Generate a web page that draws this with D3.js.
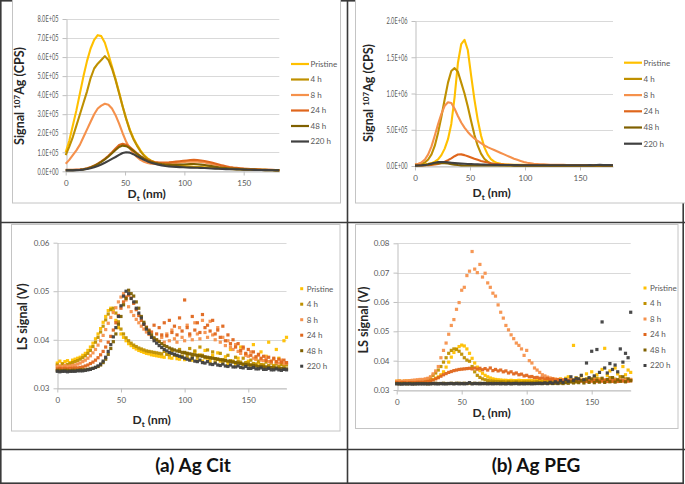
<!DOCTYPE html>
<html><head><meta charset="utf-8">
<script src="https://cdn.jsdelivr.net/npm/d3@7"></script>
<style>html,body{margin:0;padding:0;background:#fff;} svg{display:block;font-family:Lato,"Open Sans",sans-serif;}</style>
</head><body><svg id="c" width="685" height="484"></svg>
<script>
// ---------------- DATA ----------------
const seriesNames = ["Pristine", "4 h", "8 h", "24 h", "48 h", "220 h"];
const xTicks = [0, 50, 100, 150];
const xMax = 180;
const lineStepNm = 3;     // ICP-MS curves sampled every 3 nm (0..180)
const scatterStepNm = 2;  // LS points sampled every 2 nm (0..180)

const citIcpYTicks = [0, 1e5, 2e5, 3e5, 4e5, 5e5, 6e5, 7e5, 8e5];
const pegIcpYTicks = [0, 5e5, 1e6, 1.5e6, 2e6];
const citLsYTicks = [0.03, 0.04, 0.05, 0.06];
const pegLsYTicks = [0.03, 0.04, 0.05, 0.06, 0.07, 0.08];

// (a) Ag Cit, signal 107Ag (CPS)
const citIcpPristine = [1.0e5,1.6e5,2.4e5,3.2e5,4.1e5,5.0e5,5.8e5,6.45e5,6.9e5,7.15e5,7.1e5,6.75e5,6.15e5,5.5e5,4.85e5,4.15e5,3.4e5,2.75e5,2.2e5,1.75e5,1.4e5,1.1e5,8.5e4,6.8e4,5.6e4,4.8e4,4.2e4,3.8e4,3.5e4,3.3e4,3.1e4,2.9e4,2.8e4,2.7e4,2.6e4,2.5e4,2.4e4,2.3e4,2.2e4,2.1e4,2.0e4,1.9e4,1.8e4,1.7e4,1.6e4,1.5e4,1.4e4,1.3e4,1.2e4,1.15e4,1.1e4,1.0e4,9.5e3,9e3,8.5e3,8e3,7.5e3,7e3,6.5e3,6e3,6e3];
const citIcp4h = [0.85e5,1.3e5,1.8e5,2.4e5,3.0e5,3.6e5,4.2e5,4.9e5,5.4e5,5.65e5,5.85e5,6.05e5,5.85e5,5.4e5,4.8e5,4.1e5,3.4e5,2.75e5,2.15e5,1.7e5,1.35e5,1.05e5,8.2e4,6.5e4,5.4e4,4.6e4,4.0e4,3.6e4,3.3e4,3.1e4,2.9e4,2.7e4,2.6e4,2.5e4,2.4e4,2.3e4,2.2e4,2.1e4,2.0e4,1.9e4,1.8e4,1.7e4,1.6e4,1.5e4,1.4e4,1.3e4,1.2e4,1.1e4,1.0e4,9.5e3,9e3,8.5e3,8e3,7.5e3,7e3,6.5e3,6e3,6e3,5.5e3,5e3,5e3];
const citIcp8h = [0.4e5,0.6e5,0.85e5,1.1e5,1.4e5,1.8e5,2.2e5,2.6e5,3.0e5,3.3e5,3.45e5,3.55e5,3.5e5,3.3e5,2.95e5,2.5e5,2.0e5,1.55e5,1.2e5,9.5e4,7.5e4,6.0e4,5.0e4,4.4e4,4.0e4,3.8e4,3.7e4,3.7e4,3.8e4,4.0e4,4.2e4,4.4e4,4.6e4,4.8e4,5.0e4,5.1e4,5.2e4,5.1e4,4.9e4,4.6e4,4.2e4,3.8e4,3.4e4,3.0e4,2.6e4,2.3e4,2.0e4,1.8e4,1.6e4,1.4e4,1.3e4,1.2e4,1.1e4,1.0e4,9e3,8.5e3,8e3,7.5e3,7e3,6.5e3,6e3];
const citIcp24h = [8e3,8e3,8e3,9e3,1.0e4,1.2e4,1.6e4,2.2e4,3.0e4,4.0e4,5.2e4,6.6e4,8.2e4,1.0e5,1.2e5,1.38e5,1.45e5,1.4e5,1.28e5,1.12e5,9.5e4,8.0e4,6.8e4,5.9e4,5.3e4,4.9e4,4.7e4,4.6e4,4.6e4,4.7e4,4.9e4,5.1e4,5.3e4,5.5e4,5.7e4,5.9e4,6.0e4,5.9e4,5.7e4,5.4e4,5.0e4,4.6e4,4.1e4,3.6e4,3.1e4,2.7e4,2.3e4,2.0e4,1.8e4,1.6e4,1.4e4,1.3e4,1.2e4,1.1e4,1.0e4,9e3,8.5e3,8e3,7.5e3,7e3,7e3];
const citIcp48h = [6e3,6e3,6e3,7e3,8e3,1.0e4,1.4e4,2.0e4,2.8e4,3.8e4,5.0e4,6.3e4,7.8e4,9.5e4,1.12e5,1.28e5,1.35e5,1.32e5,1.22e5,1.08e5,9.2e4,7.8e4,6.6e4,5.7e4,5.0e4,4.5e4,4.1e4,3.8e4,3.6e4,3.5e4,3.4e4,3.4e4,3.5e4,3.6e4,3.7e4,3.8e4,3.8e4,3.7e4,3.5e4,3.3e4,3.0e4,2.7e4,2.4e4,2.1e4,1.9e4,1.7e4,1.5e4,1.4e4,1.3e4,1.2e4,1.1e4,1.0e4,9.5e3,9e3,8.5e3,8e3,7.5e3,7e3,6.5e3,6e3,6e3];
const citIcp220h = [5e3,5e3,5e3,6e3,7e3,9e3,1.2e4,1.6e4,2.1e4,2.8e4,3.6e4,4.5e4,5.5e4,6.5e4,7.5e4,8.6e4,9.6e4,1.0e5,9.8e4,9.0e4,8.0e4,7.0e4,6.0e4,5.2e4,4.5e4,4.0e4,3.5e4,3.1e4,2.8e4,2.6e4,2.4e4,2.3e4,2.2e4,2.1e4,2.0e4,1.95e4,1.9e4,1.85e4,1.8e4,1.7e4,1.6e4,1.5e4,1.4e4,1.3e4,1.2e4,1.15e4,1.1e4,1.05e4,1.0e4,9.5e3,9e3,8.5e3,8e3,7.5e3,7e3,6.5e3,6e3,6e3,5.5e3,5e3,5e3];

// (b) Ag PEG, signal 107Ag (CPS)
const pegIcpPristine = [2e4,2e4,2e4,2.5e4,3e4,4e4,6e4,9e4,1.5e5,2.4e5,3.7e5,5.8e5,9.5e5,1.42e6,1.68e6,1.74e6,1.6e6,1.25e6,9.2e5,6.4e5,4.2e5,2.6e5,1.6e5,9.5e4,6e4,4e4,3e4,2.4e4,2e4,1.8e4,1.6e4,1.5e4,1.5e4,1.5e4,1.4e4,1.4e4,1.4e4,1.3e4,1.3e4,1.3e4,1.3e4,1.2e4,1.2e4,1.2e4,1.2e4,1.2e4,1.1e4,1.1e4,1.1e4,1.1e4,1.1e4,1.0e4,1.0e4,1.0e4,1.0e4,1.0e4,1.0e4,1.0e4,1.0e4,1.0e4,1.0e4];
const pegIcp4h = [1.5e4,2e4,3e4,5e4,9e4,1.6e5,2.8e5,4.6e5,6.8e5,9.2e5,1.15e6,1.31e6,1.35e6,1.3e6,1.15e6,1.0e6,8.2e5,6.2e5,4.3e5,2.8e5,1.7e5,1.0e5,6e4,3.5e4,2.2e4,1.5e4,1.2e4,1e4,9e3,9e3,8e3,8e3,8e3,8e3,8e3,8e3,8e3,8e3,8e3,8e3,8e3,8e3,8e3,8e3,8e3,8e3,8e3,8e3,8e3,8e3,8e3,8e3,8e3,8e3,8e3,8e3,8e3,8e3,8e3,8e3,8e3];
const pegIcp8h = [2e4,3e4,5e4,9e4,1.6e5,2.7e5,4.2e5,5.8e5,7.2e5,8.3e5,8.8e5,8.7e5,7.9e5,6.9e5,6.0e5,5.3e5,4.7e5,4.2e5,3.8e5,3.45e5,3.15e5,2.85e5,2.6e5,2.4e5,2.2e5,2.0e5,1.8e5,1.6e5,1.4e5,1.2e5,1.0e5,8.5e4,7e4,5.5e4,4.5e4,3.8e4,3.2e4,2.8e4,2.5e4,2.2e4,2.0e4,1.8e4,1.7e4,1.6e4,1.5e4,1.5e4,1.4e4,1.4e4,1.4e4,1.3e4,1.3e4,1.3e4,1.3e4,1.2e4,1.2e4,1.2e4,1.2e4,1.2e4,1.2e4,1.2e4,1.2e4];
const pegIcp24h = [8e3,8e3,9e3,1.0e4,1.2e4,1.5e4,2e4,2.8e4,4e4,5.8e4,8e4,1.05e5,1.35e5,1.58e5,1.6e5,1.5e5,1.35e5,1.18e5,1.0e5,8.5e4,7e4,5.8e4,4.7e4,3.8e4,3.1e4,2.6e4,2.2e4,1.9e4,1.7e4,1.5e4,1.3e4,1.2e4,1.2e4,1.1e4,1.1e4,1.1e4,1.0e4,1.0e4,1.0e4,1.0e4,1.0e4,9e3,9e3,9e3,9e3,9e3,9e3,9e3,9e3,9e3,9e3,8e3,8e3,8e3,8e3,8e3,8e3,8e3,8e3,8e3,8e3];
const pegIcp48h = [5e3,6e3,8e3,1.2e4,1.8e4,2.6e4,3.4e4,4.0e4,4.2e4,4.0e4,3.4e4,2.6e4,1.9e4,1.3e4,9e3,7e3,6e3,6e3,6e3,6e3,6e3,6e3,6e3,6e3,6e3,6e3,6e3,6e3,6e3,6e3,5e3,5e3,5e3,5e3,5e3,5e3,5e3,5e3,5e3,5e3,5e3,5e3,5e3,5e3,5e3,5e3,5e3,5e3,5e3,5e3,5e3,5e3,5e3,5e3,5e3,5e3,5e3,5e3,5e3,5e3,5e3];
const pegIcp220h = [5e3,7e3,1.0e4,1.5e4,2.3e4,3.3e4,4.5e4,5.3e4,5.6e4,5.5e4,5.0e4,4.5e4,4.0e4,3.6e4,3.3e4,3.0e4,2.8e4,2.6e4,2.4e4,2.2e4,2.0e4,1.9e4,1.8e4,1.7e4,1.6e4,1.5e4,1.4e4,1.4e4,1.3e4,1.3e4,1.2e4,1.2e4,1.1e4,1.1e4,1.1e4,1.0e4,1.0e4,1.0e4,1.0e4,1.0e4,1.0e4,1.0e4,1.0e4,1.0e4,1.0e4,1.0e4,1.0e4,1.0e4,1.0e4,1.0e4,1.0e4,1.0e4,1.1e4,1.2e4,1.0e4,1.3e4,1.5e4,1.2e4,1.4e4,1.2e4,1.0e4];

// (a) Ag Cit, LS signal (V)
const citLsPristine = [
.0352,.0356,.0351,.0355,.0357,.0353,.0358,.0360,.0362,.0364,.0368,
.0372,.0378,.0385,.0393,.0402,.0412,.0423,.0436,.0448,.0460,
.0465,.0458,.0440,.0425,.0412,.0405,.0398,.0392,.0388,.0384,
.0381,.0378,.0376,.0374,.0372,.0371,.0369,.0368,.0367,.0366,
.0365,.0364,.0370,.0363,.0362,.0368,.0361,.0360,.0366,.0359,
.0372,.0360,.0358,.0375,.0357,.0369,.0356,.0378,.0362,.0355,
.0368,.0354,.0373,.0356,.0352,.0365,.0351,.0380,.0355,.0350,
.0362,.0385,.0349,.0370,.0356,.0348,.0390,.0360,.0352,.0375,
.0348,.0366,.0395,.0355,.0347,.0380,.0362,.0350,.0398,.0405];
const citLs4h = [
.0348,.0345,.0350,.0347,.0349,.0351,.0353,.0355,.0357,.0360,.0363,
.0367,.0372,.0378,.0386,.0395,.0405,.0416,.0428,.0441,.0453,
.0462,.0465,.0455,.0437,.0422,.0412,.0404,.0398,.0393,.0389,
.0386,.0383,.0381,.0379,.0377,.0376,.0375,.0374,.0373,.0372,
.0371,.0376,.0370,.0369,.0378,.0368,.0367,.0380,.0366,.0374,
.0366,.0382,.0365,.0377,.0364,.0385,.0368,.0363,.0379,.0362,
.0375,.0361,.0360,.0372,.0359,.0358,.0368,.0357,.0356,.0364,
.0355,.0354,.0362,.0353,.0352,.0358,.0351,.0350,.0356,.0349,
.0348,.0354,.0347,.0352,.0346,.0350,.0345,.0349,.0345,.0348];
const citLs8h = [
.0345,.0346,.0344,.0347,.0345,.0346,.0347,.0348,.0350,.0352,.0355,
.0358,.0362,.0367,.0373,.0380,.0389,.0398,.0409,.0421,.0434,
.0446,.0456,.0466,.0478,.0488,.0495,.0482,.0468,.0458,.0450,
.0442,.0435,.0428,.0422,.0416,.0411,.0406,.0402,.0399,.0397,
.0405,.0395,.0412,.0398,.0420,.0402,.0395,.0425,.0405,.0398,
.0430,.0408,.0400,.0435,.0412,.0402,.0440,.0415,.0405,.0438,
.0410,.0400,.0425,.0395,.0405,.0388,.0398,.0385,.0380,.0390,
.0376,.0372,.0382,.0368,.0366,.0375,.0362,.0360,.0368,.0358,
.0357,.0364,.0355,.0354,.0360,.0353,.0352,.0358,.0351,.0352];
const citLs24h = [
.0340,.0341,.0340,.0341,.0340,.0341,.0341,.0342,.0342,.0343,.0344,
.0346,.0348,.0351,.0354,.0358,.0363,.0369,.0376,.0385,.0395,
.0407,.0420,.0435,.0450,.0465,.0478,.0488,.0492,.0486,.0475,
.0462,.0450,.0440,.0432,.0426,.0420,.0416,.0430,.0412,.0425,
.0410,.0435,.0408,.0440,.0415,.0428,.0410,.0445,.0418,.0482,
.0425,.0412,.0448,.0420,.0435,.0415,.0452,.0425,.0430,.0418,
.0440,.0412,.0420,.0405,.0428,.0398,.0410,.0392,.0400,.0385,
.0392,.0378,.0385,.0372,.0380,.0368,.0375,.0365,.0370,.0362,
.0366,.0358,.0364,.0356,.0362,.0355,.0360,.0354,.0358,.0353];
const citLs48h = [
.0337,.0337,.0336,.0337,.0337,.0336,.0337,.0337,.0337,.0338,.0338,
.0338,.0339,.0340,.0341,.0343,.0345,.0348,.0353,.0360,.0370,
.0382,.0396,.0412,.0432,.0448,.0472,.0485,.0502,.0495,.0490,
.0478,.0465,.0448,.0436,.0425,.0418,.0410,.0404,.0400,.0396,
.0392,.0388,.0386,.0383,.0381,.0379,.0377,.0376,.0374,.0373,
.0372,.0371,.0370,.0369,.0368,.0367,.0366,.0365,.0364,.0363,
.0362,.0361,.0360,.0359,.0358,.0357,.0356,.0355,.0354,.0353,
.0352,.0351,.0350,.0349,.0348,.0348,.0347,.0346,.0345,.0345,
.0344,.0344,.0343,.0343,.0342,.0342,.0341,.0341,.0340,.0340];
const citLs220h = [
.0335,.0334,.0335,.0335,.0334,.0335,.0335,.0335,.0336,.0336,.0336,
.0337,.0338,.0339,.0341,.0343,.0346,.0350,.0356,.0364,.0376,
.0390,.0406,.0425,.0448,.0470,.0490,.0500,.0495,.0485,.0478,
.0465,.0455,.0445,.0432,.0422,.0413,.0405,.0398,.0393,.0388,
.0384,.0380,.0377,.0374,.0372,.0370,.0368,.0366,.0364,.0362,
.0360,.0358,.0362,.0356,.0355,.0358,.0353,.0352,.0355,.0350,
.0349,.0352,.0348,.0347,.0350,.0346,.0345,.0348,.0344,.0344,
.0346,.0343,.0342,.0345,.0341,.0341,.0343,.0340,.0340,.0342,
.0339,.0339,.0341,.0338,.0338,.0340,.0338,.0337,.0339,.0338];

// (b) Ag PEG, LS signal (V)
const pegLsPristine = [
.0330,.0331,.0329,.0330,.0331,.0330,.0329,.0330,.0330,.0329,.0330,
.0330,.0331,.0333,.0336,.0340,.0345,.0352,.0362,.0378,.0395,
.0412,.0428,.0440,.0448,.0453,.0450,.0440,.0425,.0408,.0392,
.0378,.0366,.0357,.0350,.0345,.0341,.0338,.0336,.0335,.0334,
.0333,.0333,.0332,.0333,.0332,.0332,.0333,.0332,.0332,.0332,
.0332,.0333,.0331,.0332,.0334,.0331,.0332,.0335,.0331,.0333,
.0336,.0331,.0338,.0333,.0340,.0345,.0335,.0452,.0342,.0338,
.0348,.0336,.0355,.0340,.0362,.0345,.0352,.0338,.0370,.0442,
.0350,.0365,.0342,.0375,.0355,.0345,.0380,.0352,.0368,.0360];
const pegLs4h = [
.0326,.0325,.0326,.0326,.0325,.0326,.0327,.0327,.0328,.0329,.0331,
.0334,.0338,.0343,.0350,.0358,.0368,.0380,.0395,.0410,.0425,
.0435,.0440,.0438,.0432,.0422,.0410,.0402,.0398,.0380,.0362,
.0350,.0343,.0338,.0335,.0333,.0331,.0330,.0329,.0329,.0328,
.0328,.0327,.0328,.0327,.0327,.0328,.0327,.0326,.0327,.0327,
.0327,.0326,.0327,.0328,.0326,.0327,.0326,.0327,.0328,.0326,
.0327,.0329,.0326,.0330,.0327,.0332,.0328,.0335,.0327,.0330,
.0333,.0328,.0338,.0330,.0334,.0329,.0340,.0331,.0336,.0330,
.0335,.0342,.0330,.0337,.0332,.0345,.0331,.0338,.0333,.0336];
const pegLs8h = [
.0330,.0331,.0330,.0331,.0331,.0332,.0333,.0334,.0335,.0336,.0336,
.0338,.0340,.0345,.0355,.0365,.0380,.0410,.0435,.0460,.0490,
.0520,.0540,.0575,.0598,.0640,.0650,.0690,.0705,.0772,.0712,
.0700,.0728,.0685,.0698,.0665,.0650,.0630,.0620,.0590,.0565,
.0545,.0520,.0505,.0488,.0475,.0460,.0452,.0440,.0418,.0435,
.0400,.0392,.0375,.0368,.0360,.0352,.0348,.0344,.0341,.0339,
.0337,.0336,.0335,.0334,.0334,.0333,.0334,.0333,.0333,.0334,
.0334,.0333,.0335,.0333,.0334,.0336,.0333,.0334,.0333,.0335,
.0334,.0333,.0336,.0334,.0333,.0335,.0334,.0333,.0334,.0335];
const pegLs24h = [
.0325,.0324,.0325,.0325,.0324,.0325,.0325,.0325,.0326,.0326,.0326,
.0327,.0329,.0331,.0334,.0338,.0342,.0347,.0352,.0356,.0360,
.0363,.0366,.0368,.0370,.0371,.0372,.0373,.0374,.0372,.0375,
.0371,.0374,.0369,.0373,.0368,.0375,.0366,.0370,.0365,.0368,
.0362,.0365,.0358,.0362,.0355,.0358,.0352,.0354,.0348,.0350,
.0345,.0346,.0342,.0343,.0340,.0341,.0338,.0339,.0336,.0337,
.0334,.0335,.0333,.0334,.0332,.0333,.0331,.0333,.0330,.0332,
.0330,.0332,.0329,.0331,.0330,.0333,.0329,.0331,.0330,.0332,
.0329,.0331,.0330,.0332,.0329,.0330,.0331,.0329,.0330,.0331];
const pegLs48h = [
.0322,.0321,.0322,.0322,.0321,.0322,.0322,.0321,.0322,.0322,.0322,
.0322,.0321,.0322,.0322,.0323,.0322,.0322,.0323,.0322,.0322,
.0323,.0322,.0323,.0323,.0322,.0323,.0322,.0323,.0322,.0323,
.0322,.0323,.0322,.0322,.0323,.0322,.0323,.0322,.0322,.0323,
.0322,.0322,.0323,.0322,.0322,.0323,.0322,.0322,.0323,.0322,
.0322,.0323,.0322,.0323,.0322,.0322,.0323,.0322,.0323,.0322,
.0323,.0322,.0324,.0322,.0325,.0323,.0328,.0324,.0330,.0325,
.0332,.0324,.0335,.0326,.0338,.0325,.0333,.0327,.0340,.0326,
.0336,.0328,.0342,.0327,.0335,.0330,.0345,.0328,.0338,.0332];
const pegLs220h = [
.0321,.0321,.0320,.0321,.0321,.0321,.0320,.0321,.0321,.0321,.0321,
.0321,.0321,.0321,.0322,.0321,.0321,.0322,.0321,.0321,.0322,
.0322,.0321,.0322,.0321,.0322,.0321,.0322,.0325,.0321,.0322,
.0322,.0321,.0322,.0322,.0321,.0322,.0321,.0322,.0322,.0321,
.0322,.0321,.0322,.0321,.0322,.0322,.0321,.0322,.0321,.0322,
.0322,.0321,.0322,.0322,.0323,.0322,.0324,.0322,.0326,.0323,
.0328,.0324,.0332,.0326,.0336,.0330,.0345,.0333,.0340,.0338,
.0350,.0335,.0392,.0342,.0432,.0348,.0438,.0360,.0532,.0375,
.0358,.0390,.0370,.0385,.0362,.0440,.0395,.0425,.0410,.0565];

const citIcpSeries = [citIcpPristine, citIcp4h, citIcp8h, citIcp24h, citIcp48h, citIcp220h];
const pegIcpSeries = [pegIcpPristine, pegIcp4h, pegIcp8h, pegIcp24h, pegIcp48h, pegIcp220h];
const citLsSeries = [citLsPristine, citLs4h, citLs8h, citLs24h, citLs48h, citLs220h];
const pegLsSeries = [pegLsPristine, pegLs4h, pegLs8h, pegLs24h, pegLs48h, pegLs220h];

// ---------------- STYLE / LAYOUT ----------------
const colors = ["#FFC000", "#BF9000", "#F5914C", "#DF661C", "#7F6000", "#404040"];
const svg = d3.select("#c");
const TXT = "#595959";

const fmtE = d => d.toExponential(1).toUpperCase().replace(/E([+-])(\d)$/, (m, s, n) => "E" + s + "0" + n);
const fmt2 = d3.format(".2f");

// table frame
const frame = svg.append("g").attr("fill", "none").attr("stroke", "#3a3a3a").attr("stroke-width", 1.6);
frame.append("rect").attr("x", 0.8).attr("y", 0.8).attr("width", 682.4).attr("height", 482.4);
frame.append("line").attr("x1", 347.5).attr("x2", 347.5).attr("y1", 0).attr("y2", 484);
frame.append("line").attr("x1", 0).attr("x2", 685).attr("y1", 222.5).attr("y2", 222.5);
frame.append("line").attr("x1", 0).attr("x2", 685).attr("y1", 449.5).attr("y2", 449.5);

svg.append("text").attr("x", 193).attr("y", 472).attr("text-anchor", "middle")
  .attr("font-size", 19).attr("font-weight", "bold").attr("fill", "#111").text("(a) Ag Cit");
svg.append("text").attr("x", 536).attr("y", 472).attr("text-anchor", "middle")
  .attr("font-size", 19).attr("font-weight", "bold").attr("fill", "#111").text("(b) Ag PEG");

const panels = [
  {series: citIcpSeries, kind: "line", step: lineStepNm, yDomain: [0, 8e5], yTicks: citIcpYTicks, fmt: fmtE, eLabels: true,
   L: 65.7, R: 279.3, T: 19, B: 171.3, area: [12.5, -2, 328, 205], yTitle: "icp", ytx: 20, yty: 96,
   xtx: 146.7, xty: 197.5, legX: 291, legY: 64, legDy: 15.5},
  {series: pegIcpSeries, kind: "line", step: lineStepNm, yDomain: [0, 2e6], yTicks: pegIcpYTicks, fmt: fmtE, eLabels: true,
   L: 415, R: 613, T: 21, B: 166, area: [355.5, -2, 330, 205], yTitle: "icp", ytx: 369, yty: 93,
   xtx: 491.7, xty: 197, legX: 624, legY: 62.7, legDy: 16.2},
  {series: citLsSeries, kind: "scatter", step: scatterStepNm, yDomain: [0.03, 0.06], yTicks: citLsYTicks, fmt: fmt2, eLabels: false,
   L: 57.3, R: 286.5, T: 242.7, B: 388.3, area: [11.5, 224.5, 328.5, 206.5], yTitle: "ls", ytx: 23, yty: 316.7,
   xtx: 151.7, xty: 423.5, legX: 301.7, legY: 288.7, legDy: 15.5},
  {series: pegLsSeries, kind: "scatter", step: scatterStepNm, yDomain: [0.03, 0.08], yTicks: pegLsYTicks, fmt: fmt2, eLabels: false,
   L: 396.7, R: 630.7, T: 243.3, B: 390, area: [355.5, 224.5, 322.5, 204], yTitle: "ls", ytx: 364, yty: 320,
   xtx: 491.7, xty: 417, legX: 645, legY: 288, legDy: 15.5}
];

panels.forEach(p => {
  const g = svg.append("g");
  g.append("rect").attr("x", p.area[0]).attr("y", p.area[1]).attr("width", p.area[2]).attr("height", p.area[3])
    .attr("fill", "#fff").attr("stroke", "#C4C4C4").attr("stroke-width", 1);

  const x = d3.scaleLinear().domain([0, xMax]).range([p.L, p.R]);
  const y = d3.scaleLinear().domain(p.yDomain).range([p.B, p.T]);

  // gridlines
  g.append("g").selectAll("line").data(p.yTicks).join("line")
    .attr("x1", p.L).attr("x2", p.R).attr("y1", d => Math.round(y(d)) + 0.5).attr("y2", d => Math.round(y(d)) + 0.5)
    .attr("stroke", "#D9D9D9").attr("stroke-width", 1);

  // y axis
  const ya = g.append("g").attr("transform", `translate(${Math.round(p.L) + 0.5},0)`)
    .call(d3.axisLeft(y).tickValues(p.yTicks).tickFormat(p.fmt).tickSize(4).tickSizeOuter(0).tickPadding(4));
  ya.select(".domain").attr("stroke", "#BFBFBF");
  ya.selectAll(".tick line").attr("stroke", "#BFBFBF");
  ya.selectAll(".tick text").attr("fill", TXT).attr("font-size", p.eLabels ? 8.6 : 8).attr("font-family", "Lato, sans-serif");
  if (p.eLabels) ya.selectAll(".tick text").attr("textLength", 21).attr("lengthAdjust", "spacingAndGlyphs");

  // x axis
  const xa = g.append("g").attr("transform", `translate(0,${Math.round(p.B) + 0.5})`)
    .call(d3.axisBottom(x).tickValues(xTicks).tickSize(4).tickSizeOuter(0).tickPadding(5));
  xa.select(".domain").attr("stroke", "#BFBFBF");
  xa.selectAll(".tick line").attr("stroke", "#BFBFBF");
  xa.selectAll(".tick text").attr("fill", TXT).attr("font-size", 8).attr("font-family", "Lato, sans-serif");

  // data
  const dataG = g.append("g");
  if (p.kind === "line") {
    const line = d3.line().x((d, i) => x(i * p.step)).y(d => y(d));
    p.series.forEach((s, k) => {
      dataG.append("path").datum(s).attr("d", line).attr("fill", "none")
        .attr("stroke", colors[k]).attr("stroke-width", 2.1).attr("stroke-linejoin", "round");
    });
  } else {
    p.series.forEach((s, k) => {
      dataG.append("g").selectAll("rect").data(s).join("rect")
        .attr("x", (d, i) => x(i * p.step) - 1.6).attr("y", d => y(d) - 1.6)
        .attr("width", 3.2).attr("height", 3.2).attr("fill", colors[k]).attr("opacity", 0.95);
    });
  }

  // axis titles
  const xt = g.append("text").attr("x", p.xtx).attr("y", p.xty).attr("text-anchor", "middle")
    .attr("font-size", 12).attr("font-weight", "bold").attr("fill", "#262626");
  xt.append("tspan").text("D");
  xt.append("tspan").attr("dy", 3).attr("font-size", 8).text("t");
  xt.append("tspan").attr("dy", -3).text(" (nm)");

  const yt = g.append("text").attr("transform", `translate(${p.ytx},${p.yty}) rotate(-90)`)
    .attr("text-anchor", "middle").attr("dy", "0.35em")
    .attr("font-size", 12.5).attr("font-weight", "bold").attr("fill", "#262626");
  if (p.yTitle === "icp") {
    yt.append("tspan").text("Signal ");
    yt.append("tspan").attr("dy", -4).attr("font-size", 8).text("107");
    yt.append("tspan").attr("dy", 4).text("Ag (CPS)");
  } else {
    yt.text("LS signal (V)");
  }

  // legend
  const lg = g.append("g");
  seriesNames.forEach((name, k) => {
    const cy = p.legY + k * p.legDy;
    if (p.kind === "line") {
      lg.append("line").attr("x1", p.legX).attr("x2", p.legX + 18).attr("y1", cy).attr("y2", cy)
        .attr("stroke", colors[k]).attr("stroke-width", 2.2);
      lg.append("text").attr("x", p.legX + 19.5).attr("y", cy).attr("dy", "0.35em")
        .attr("font-size", 8).attr("fill", TXT).text(name);
    } else {
      lg.append("rect").attr("x", p.legX - 1.5).attr("y", cy - 1.5).attr("width", 3).attr("height", 3)
        .attr("fill", colors[k]);
      lg.append("text").attr("x", p.legX + 5).attr("y", cy).attr("dy", "0.35em")
        .attr("font-size", 8).attr("fill", TXT).text(name);
    }
  });
});
</script>
</body></html>
